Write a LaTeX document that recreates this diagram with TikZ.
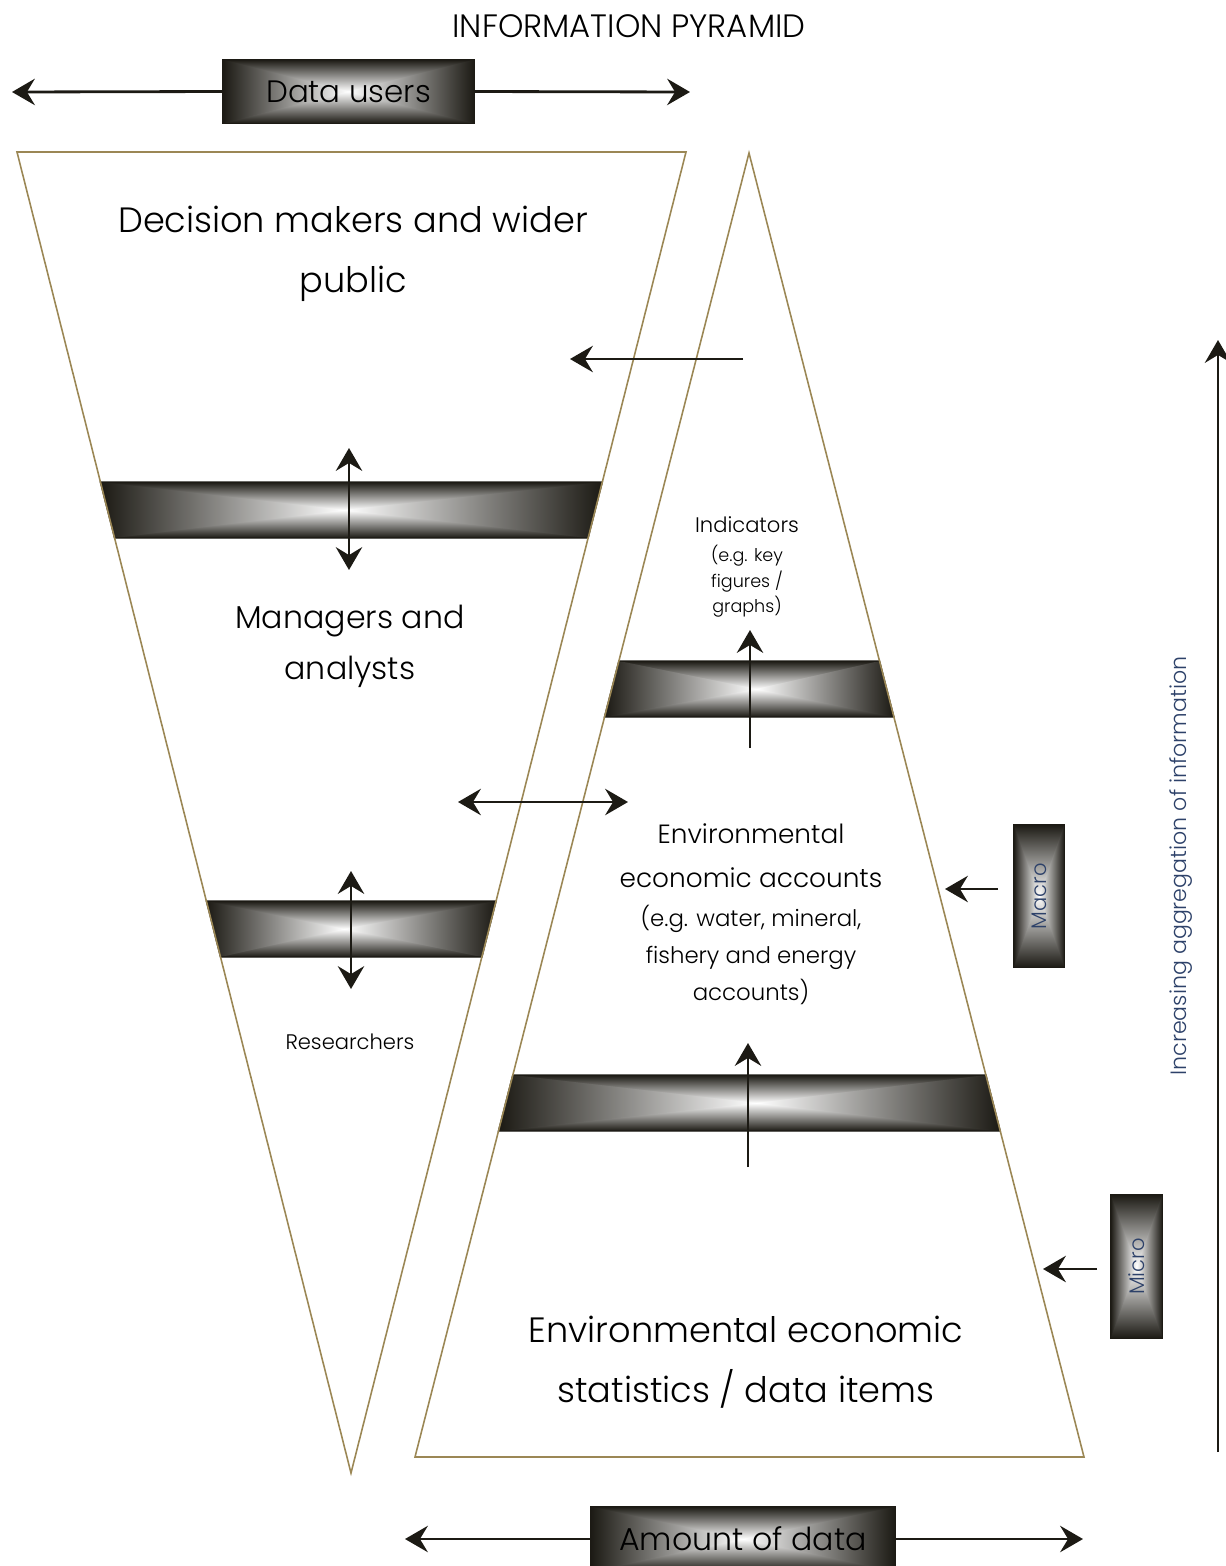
\documentclass[tikz,border=0pt]{standalone}
\usepackage{fontspec}
\usepackage{graphicx}
\IfFontExistsTF{Poppins Light}{\setmainfont{Poppins Light}}{\setmainfont{Poppins}}
\usetikzlibrary{arrows.meta,positioning,calc,backgrounds}
\definecolor{rim}{RGB}{155,135,85}
\definecolor{ink}{RGB}{28,26,20}
\definecolor{navy}{RGB}{45,65,105}
\tikzset{
  rimline/.style={draw=rim, line width=0.9pt},
  arr/.style={draw=ink, line width=1.6pt, -{Stealth[length=13pt,width=15pt,inset=4.5pt]}},
  darr/.style={draw=ink, line width=1.6pt, {Stealth[length=13pt,width=15pt,inset=4.5pt]}-{Stealth[length=13pt,width=15pt,inset=4.5pt]}},
  glowbox/.style={inner sep=0pt},
}
% shaded quad: dark rim, light centre (corners top-left, top-right, bottom-right, bottom-left)
\newcommand{\glowquad}[4]{%
  \begin{pgfonlayer}{background}
  \coordinate (gA) at #1; \coordinate (gB) at #2;
  \coordinate (gC) at #3; \coordinate (gD) at #4;
  \coordinate (gM) at ($(gA)!0.5!(gC)$);
  \coordinate (gL) at ($(gA)!0.5!(gD)$);
  \coordinate (gR) at ($(gB)!0.5!(gC)$);
  \shade[top color=ink, bottom color=white] (gA) -- (gB) -- (gR) -- (gL) -- cycle;
  \shade[top color=white, bottom color=ink] (gL) -- (gR) -- (gC) -- (gD) -- cycle;
  \shade[left color=ink, right color=white] (gA) -- (gM) -- (gD) -- cycle;
  \shade[left color=white, right color=ink] (gB) -- (gM) -- (gC) -- cycle;
  \draw[ink, line width=0.8pt] (gA) -- (gB) -- (gC) -- (gD) -- cycle;
  \end{pgfonlayer}
}
\begin{document}
\begin{tikzpicture}[x=0.02cm, y=-0.02cm]
\useasboundingbox (0,0) rectangle (1225,1566);

\node [font=\fontsize{18.4}{21}\selectfont] (title) at (629,26) {INFORMATION PYRAMID};

% the two pyramids
\draw [rimline] (17,152) -- (686,152) -- (351,1473) -- cycle;
\draw [rimline] (749,153) -- (1084,1457) -- (415,1457) -- cycle;

% bands
\glowquad{(100.4,482)}{(602.3,482)}{(588.1,538)}{(114.6,538)}
\glowquad{(206.4,901)}{(496.1,901)}{(481.9,957)}{(220.5,957)}
\glowquad{(618.9,661)}{(879.5,661)}{(893.9,717)}{(604.5,717)}
\glowquad{(512.8,1075)}{(985.9,1075)}{(1000.2,1131)}{(498.5,1131)}

% data users
\node [glowbox, minimum width=5.02cm, minimum height=1.26cm, font=\fontsize{17.6}{20}\selectfont] (users) at (348.5,91.5) {Data users};
\glowquad{(users.north west)}{(users.north east)}{(users.south east)}{(users.south west)}
\coordinate (usersL) at (12,92);
\coordinate (usersR) at (690,92);
\draw [arr] (users.west) -- (usersL);
\draw [arr] (users.east) -- (usersR);

% left pyramid texts
\node [font=\fontsize{20}{34}\selectfont, align=center] (deciders) at (353,254) {Decision makers and wider\\public};
\node [font=\fontsize{18}{29}\selectfont, align=center] (managers) at (350,646) {Managers and\\analysts};
\node [font=\fontsize{12}{14}\selectfont] (researchers) at (350,1042) {Researchers};

% right pyramid texts
\node [font=\fontsize{12}{15}\selectfont] (indicators) at (747,525) {Indicators};
\node [font=\fontsize{10}{14.5}\selectfont, align=center, below=0pt of indicators] (keyfig) {(e.g. key\\figures /\\graphs)};
\node [font=\fontsize{15}{25}\selectfont, align=center] (accounts) at (751,856) {Environmental\\economic accounts};
\node [font=\fontsize{13}{21}\selectfont, align=center] (accex) at (751,955) {(e.g. water, mineral,\\fishery and energy\\accounts)};
\node [font=\fontsize{20}{34}\selectfont, align=center] (stats) at (746,1362) {Environmental economic\\statistics / data items};

% arrows through the bands
\coordinate (b1top) at (349,448);
\coordinate (b1bot) at (349,570);
\draw [darr] (b1top) -- (b1bot);
\coordinate (b2top) at (351,871);
\coordinate (b2bot) at (351,989);
\draw [darr] (b2top) -- (b2bot);
\coordinate (b3low) at (750,748);
\coordinate (b3up) at (750,630);
\draw [arr] (b3low) -- (b3up);
\coordinate (b4low) at (748,1167);
\coordinate (b4up) at (748,1043);
\draw [arr] (b4low) -- (b4up);

% between the pyramids
\coordinate (feedA) at (743,359);
\coordinate (feedB) at (570,359);
\draw [arr] (feedA) -- (feedB);
\coordinate (swapL) at (458,802);
\coordinate (swapR) at (628,802);
\draw [darr] (swapL) -- (swapR);

% macro / micro
\node [glowbox, minimum width=1.0cm, minimum height=2.84cm, text=navy, font=\fontsize{12}{14}\selectfont] (macro) at (1039,896) {\rotatebox{90}{Macro}};
\glowquad{(macro.north west)}{(macro.north east)}{(macro.south east)}{(macro.south west)}
\coordinate (macroA) at (998,889);
\coordinate (macroB) at (945,889);
\draw [arr] (macroA) -- (macroB);
\node [glowbox, minimum width=1.02cm, minimum height=2.86cm, text=navy, font=\fontsize{12}{14}\selectfont] (micro) at (1136.5,1266.5) {\rotatebox{90}{Micro}};
\glowquad{(micro.north west)}{(micro.north east)}{(micro.south east)}{(micro.south west)}
\coordinate (microA) at (1097,1269);
\coordinate (microB) at (1043,1269);
\draw [arr] (microA) -- (microB);

% aggregation axis
\coordinate (aggLow) at (1218,1452);
\coordinate (aggHigh) at (1218,340);
\draw [arr] (aggLow) -- (aggHigh);
\node [rotate=90, text=navy, font=\fontsize{12.6}{14}\selectfont] (aggText) at (1181,866) {Increasing aggregation of information};

% amount of data
\node [glowbox, minimum width=6.08cm, minimum height=1.28cm, font=\fontsize{18}{20}\selectfont] (amount) at (743,1539) {Amount of data\hspace{0.4cm}};
\glowquad{(amount.north west)}{(amount.north east)}{(amount.south east)}{(amount.south west)}
\coordinate (amountL) at (405,1539);
\coordinate (amountR) at (1083,1539);
\draw [arr] (amount.west) -- (amountL);
\draw [arr] (amount.east) -- (amountR);
\end{tikzpicture}
\end{document}
